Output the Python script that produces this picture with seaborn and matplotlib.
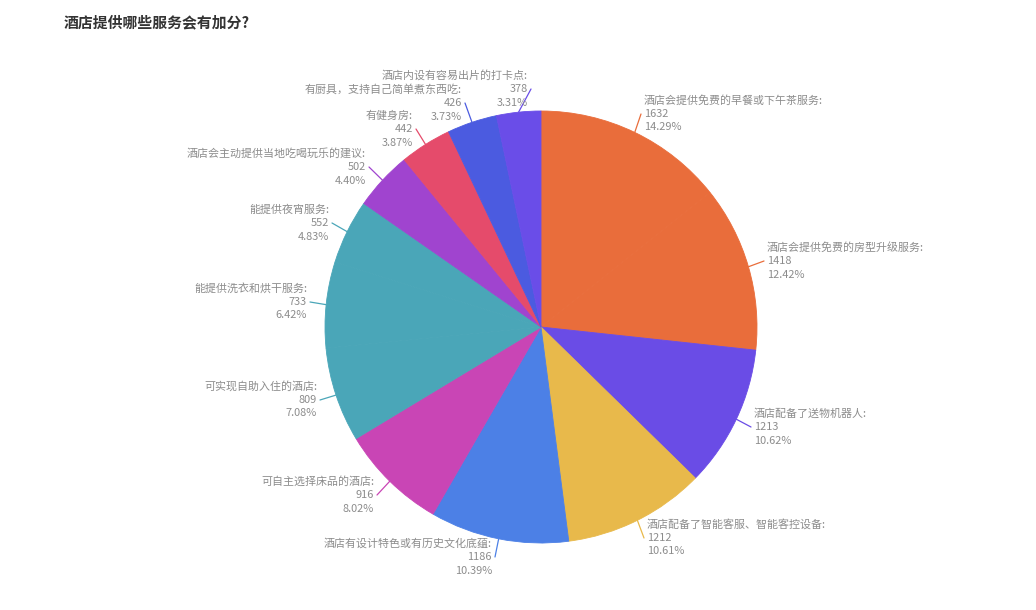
import numpy as np
import matplotlib
matplotlib.use('Agg')
import matplotlib.pyplot as plt
import seaborn as sns

# ---- data ----
categories = [
    "酒店会提供免费的早餐或下午茶服务",
    "酒店会提供免费的房型升级服务",
    "酒店配备了送物机器人",
    "酒店配备了智能客服、智能客控设备",
    "酒店有设计特色或有历史文化底蕴",
    "可自主选择床品的酒店",
    "可实现自助入住的酒店",
    "能提供洗衣和烘干服务",
    "能提供夜宵服务",
    "酒店会主动提供当地吃喝玩乐的建议",
    "有健身房",
    "有厨具，支持自己简单煮东西吃",
    "酒店内设有容易出片的打卡点",
]
values = [1632, 1418, 1213, 1212, 1186, 916, 809, 733, 552, 502, 442, 426, 378]
title = "酒店提供哪些服务会有加分?"

# ---- styles / layout ----
slice_colors = ['#E96D3B', '#E96D3B', '#6A4CE6', '#E8B94B', '#4C80E6', '#C945B5',
                '#4AA6B8', '#4AA6B8', '#4AA6B8', '#A044CF', '#E54B6B', '#4B5BE0', '#6A4DE8']
# leader-line end points for the labels (pixel coords, y from top)
label_anchor_px = [(641, 114), (764, 261), (751, 427), (644, 538), (495, 557),
                   (377, 495), (320, 400), (310, 302), (332, 223), (369, 167),
                   (416, 129), (465, 103), (531, 89)]

sns.set_theme(style='white')
plt.rcParams['font.family'] = ['Noto Sans CJK SC', 'DejaVu Sans']

W, H = 1036, 610
fig = plt.figure(figsize=(W / 100, H / 100), dpi=100)
ax = fig.add_axes([0, 0, 1, 1])

cx, cy, R = 541, H - 327, 216
palette = sns.color_palette(slice_colors)
wedges, _ = ax.pie(values, colors=palette, startangle=90, counterclock=False,
                   center=(cx, cy), radius=R, frame=True,
                   wedgeprops=dict(linewidth=0.6))
for w in wedges:
    w.set_edgecolor(w.get_facecolor())

ax.set_xlim(0, W)
ax.set_ylim(0, H)
ax.set_aspect('equal')
ax.axis('off')

total = sum(values)
LINE = 13.5
for w, name, v, col, (axp, ayp) in zip(wedges, categories, values, palette, label_anchor_px):
    mid = np.deg2rad((w.theta1 + w.theta2) / 2)
    x0 = w.center[0] + w.r * np.cos(mid)
    y0 = w.center[1] + w.r * np.sin(mid)
    ex, ey = axp, H - ayp
    ax.plot([x0, ex], [y0, ey], color=col, lw=0.9, solid_capstyle='round')
    right = ex > cx
    pct = v / total * 100
    tx = ex + (3 if right else -3)
    ha = 'left' if right else 'right'
    for k, line in enumerate([f"{name}:", f"{v}", f"{pct:.2f}%"]):
        ax.text(tx, ey + LINE * (1 - k), line, ha=ha, va='center',
                fontsize=7.9, color='#8c8c8c')

fig.text(64 / W, 1 - 22 / H, title, fontsize=10.7, fontweight='bold',
         color='#333333', ha='left', va='center')

fig.savefig('out.png', dpi=100, facecolor='white')
